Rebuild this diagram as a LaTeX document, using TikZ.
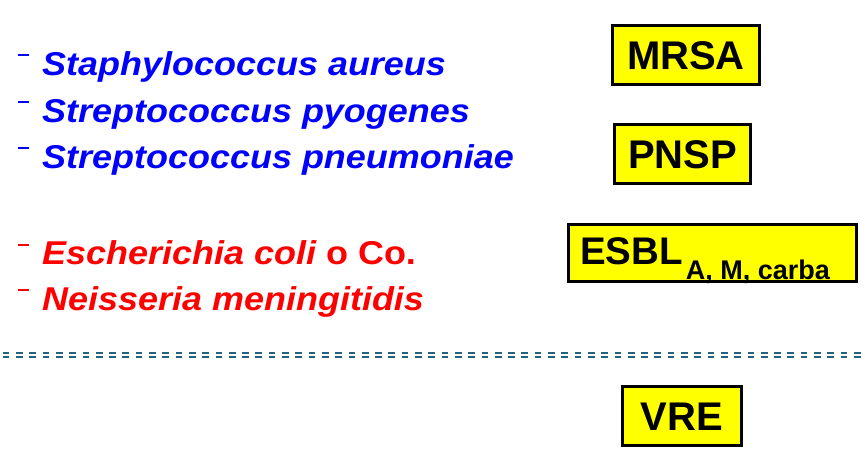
\documentclass[tikz,border=0pt]{standalone}
\usepackage{fontspec}
\setmainfont{Liberation Sans}
\newfontfamily\spfont[FakeStretch=1.09]{Liberation Sans}
\definecolor{myblue}{RGB}{0,0,255}
\definecolor{myred}{RGB}{255,0,0}
\definecolor{myyellow}{RGB}{255,255,0}
\definecolor{sepcol}{RGB}{36,98,128}
\begin{document}
\begin{tikzpicture}[x=1pt,y=-1pt,
  species/.style={anchor=base west,inner sep=0pt,font=\spfont\fontsize{33}{33}\selectfont\bfseries\itshape},
  bul/.style={line width=2pt},
  warnbox/.style={draw=black,line width=3pt,fill=myyellow,inner sep=0pt,
     font=\fontsize{40}{40}\selectfont\bfseries,text height=29pt,text depth=0pt},
  sep/.style={sepcol,line width=2pt,dash pattern=on 6.7pt off 6.6pt,dash phase=10.6pt}]
\useasboundingbox (0,0) rectangle (865,464);
% species list
\node[species,text=myblue] (s1) at (42,75) {Staphylococcus aureus};
\node[species,text=myblue] (s2) at (42,122) {Streptococcus pyogenes};
\node[species,text=myblue] (s3) at (42,168) {Streptococcus pneumoniae};
\node[species,text=myred] (s4) at (42,264) {Escherichia coli\upshape{} o Co.};
\node[species,text=myred] (s5) at (42,310) {Neisseria meningitidis};
\foreach \y in {55,102,148} \draw[bul,myblue] (18,\y) -- (29,\y);
\foreach \y in {245,290} \draw[bul,myred] (18,\y) -- (29,\y);
% boxes
\node[warnbox,minimum width=147pt,minimum height=59pt] (mrsa) at (686,55) {MRSA};
\node[warnbox,minimum width=136pt,minimum height=59pt] (pnsp) at (682.5,154) {PNSP};
\node[warnbox,minimum width=288pt,minimum height=57pt] (esbl) at (712.5,253) {};
\node[anchor=base west,inner sep=0pt,font=\bfseries] (esbltxt) at (580,264)
   {{\fontsize{38.5}{38.5}\selectfont ESBL}\hspace{3pt}\raisebox{-15pt}{\fontsize{27}{27}\selectfont A, M, carba}};
\node[warnbox,minimum width=119pt,minimum height=59pt] (vre) at (682,416) {VRE};
% separator
\draw[sep] (0,352.7) -- (865,352.7);
\draw[sep] (0,356.7) -- (865,356.7);
\end{tikzpicture}
\end{document}
